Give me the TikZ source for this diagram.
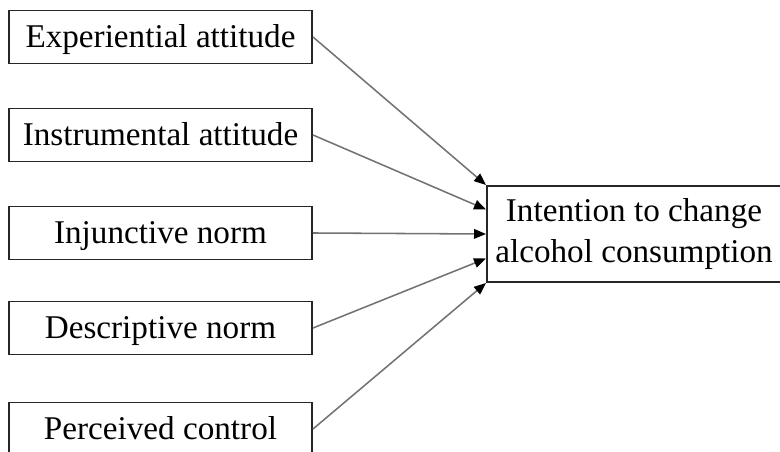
\documentclass[tikz,border=0pt]{standalone}
\usepackage{fontspec}
\setmainfont{Liberation Serif}
\usetikzlibrary{arrows.meta,calc}

\begin{document}
\begin{tikzpicture}[box/.style={draw=black!85, line width=1.4pt, minimum width=7.575cm, minimum height=1.325cm, inner sep=0pt, text height=21pt, text depth=5.7pt, font=\fontsize{23.6}{29.2}\selectfont},
		link/.style={draw=black!55, line width=1.1pt, -{Triangle[length=0.3cm,width=0.24cm,black]}}]
			\useasboundingbox (0,0) rectangle (19.5,-11.3);
			\clip (0,0) rectangle (19.5,-11.3);

			\node[box] (1) at (4.0125,-0.925) {Experiential attitude};
			\node[box] (2) at (4.0125,-3.375) {Instrumental attitude};
			\node[box] (3) at (4.0125,-5.825) {Injunctive norm};
			\node[box] (4) at (4.0125,-8.2) {Descriptive norm};
			\node[box] (5) at (4.0125,-10.725) {Perceived control};
			\node[box, minimum width=7.35cm, minimum height=2.4cm, text height=, text depth=, align=center] (6) at (15.85,-5.85) {Intention to change\\alcohol consumption};

			\draw[link] (1.east) -- (6.north west);
			\draw[link] (2.east) -- ($(6.north west)!.25!(6.south west)$);
			\draw[link] (3.east) -- (6.west);
			\draw[link] (4.east) -- ($(6.north west)!.75!(6.south west)$);
			\draw[link] (5.east) -- (6.south west);
		\end{tikzpicture}
\end{document}
